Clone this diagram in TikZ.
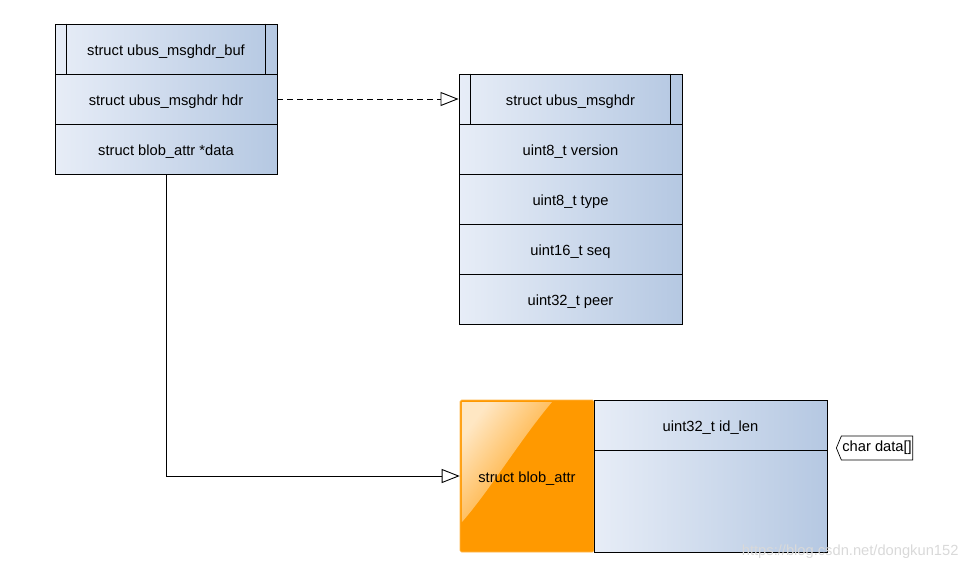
\documentclass[tikz,border=0pt]{standalone}
\usepackage{fontspec}
\setmainfont{Liberation Sans}
\usetikzlibrary{arrows.meta,shapes.symbols,fadings}
\definecolor{cellL}{HTML}{E7EDF7}
\definecolor{cellR}{HTML}{B5C8E2}
\definecolor{orng}{HTML}{FF9900}
\tikzfading[name=hlfade, left color=transparent!10, right color=transparent!100]
\tikzset{
  txt/.style={font=\fontsize{14.7}{17}\selectfont, text height=14pt, text depth=2pt},
  cell/.style={draw=black, line width=0.9pt, left color=cellL, right color=cellR,
    minimum height=50pt, inner sep=0pt, txt},
  conn/.style={line width=0.9pt, -{Triangle[open, length=18pt, width=14pt, line width=0.9pt]}},
}
\begin{document}
\begin{tikzpicture}[x=1pt, y=-1pt]
\useasboundingbox (0,0) rectangle (972,571);
% box 1
\node[cell, minimum width=222pt] (bh) at (166,49) {struct ubus\_msghdr\_buf};
\node[cell, minimum width=222pt] (bhdr) at (166,99) {struct ubus\_msghdr hdr};
\node[cell, minimum width=222pt] (bdata) at (166,149) {struct blob\_attr *data};
\draw[line width=0.9pt] ([xshift=12pt]bh.north west) -- ([xshift=12pt]bh.south west);
\draw[line width=0.9pt] ([xshift=-12pt]bh.north east) -- ([xshift=-12pt]bh.south east);
% box 2
\node[cell, minimum width=223pt] (mh) at (570.5,99) {struct ubus\_msghdr};
\node[cell, minimum width=223pt] (mver) at (570.5,149) {uint8\_t version};
\node[cell, minimum width=223pt] (mtype) at (570.5,199) {uint8\_t type};
\node[cell, minimum width=223pt] (mseq) at (570.5,249) {uint16\_t seq};
\node[cell, minimum width=223pt] (mpeer) at (570.5,299) {uint32\_t peer};
\draw[line width=0.9pt] ([xshift=12pt]mh.north west) -- ([xshift=12pt]mh.south west);
\draw[line width=0.9pt] ([xshift=-12pt]mh.north east) -- ([xshift=-12pt]mh.south east);
% blob_attr
\node[fill=orng, draw=orng!70!white, line width=0.6pt, rounded corners=1.5pt, minimum width=134pt, minimum height=152pt, inner sep=0pt] (battr) at (527,476) {};
\fill[white, fill opacity=0.85, path fading=hlfade, fading angle=-45]
  (462,402) -- (552,402) .. controls (520,440) and (490,490) .. (462,522) -- cycle;
\node[txt] (battrlbl) at (battr.center) {struct blob\_attr};
\node[cell, minimum width=233pt] (idlen) at (710.5,425) {uint32\_t id\_len};
\node[cell, minimum width=233pt, minimum height=102pt] (dataarea) at (710.5,501) {};
% callout
\node[signal, signal to=west, signal pointer angle=135, draw=black, fill=white, line width=0.7pt,
  font=\fontsize{14.7}{17}\selectfont, minimum height=24pt, inner xsep=1pt, inner ysep=0pt, anchor=west] (chard) at (836,448) {char data[]};
% connectors
\draw[conn, dash pattern=on 6pt off 4pt] (bhdr.east) -- (mh.west);
\draw[conn] (bdata.south) |- (battr.west);
% watermark
\node[font=\fontsize{14.7}{17}\selectfont, text=gray!30, anchor=east] (wm) at (962,552) {https://blog.csdn.net/dongkun152};
\end{tikzpicture}
\end{document}
